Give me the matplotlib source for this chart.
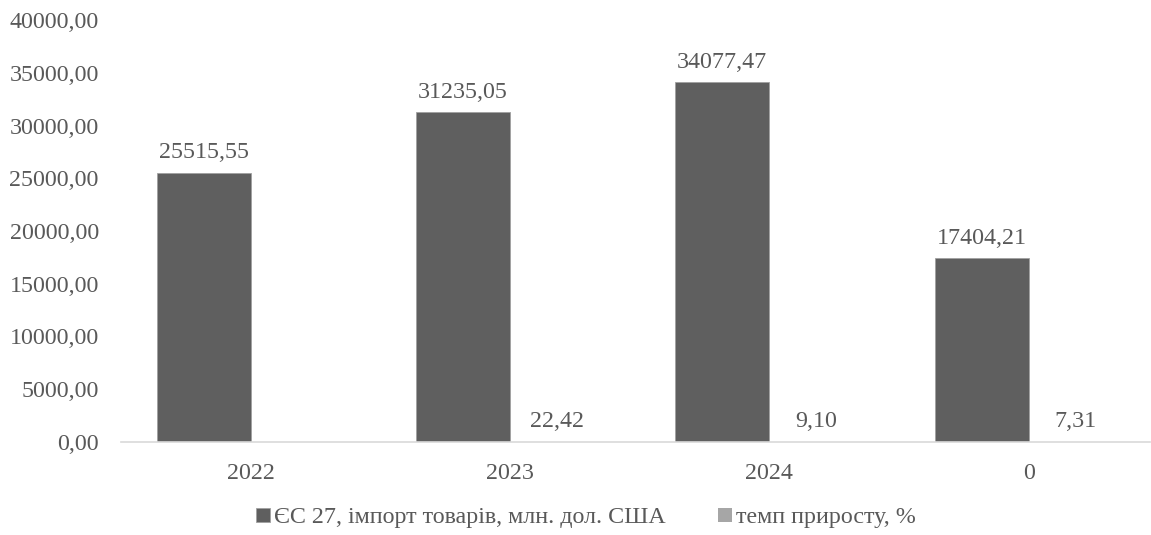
import numpy as np
import matplotlib
matplotlib.use('Agg')
import matplotlib.pyplot as plt

# Дані
kategorii = ['2022', '2023', '2024', '0']
import_es = [25515.55, 31235.05, 34077.47, 17404.21]
temp_pryrostu = [np.nan, 22.42, 9.10, 7.31]
y_ticks = [0, 5000, 10000, 15000, 20000, 25000, 30000, 35000, 40000]

name_import = 'ЄС 27, імпорт товарів, млн. дол. США'
name_temp = 'темп приросту, %'

plt.rcParams['font.family'] = ['Liberation Serif', 'DejaVu Serif']
text_color = '#595959'
fs = 17.3

fig = plt.figure(figsize=(11.51, 5.35), dpi=100)
ax = fig.add_axes([121 / 1151, 93 / 535, 1029 / 1151, 422 / 535])

x = np.arange(len(kategorii))
w = 0.363

b1 = ax.bar(x - w / 2, import_es, width=w, color='#5f5f5f',
            edgecolor='#a0a0a0', linewidth=0.6, label=name_import)
b2 = ax.bar(x + w / 2, np.nan_to_num(temp_pryrostu), width=w, color='#a6a6a6',
            label=name_temp)


def fmt(v):
    return f'{v:.2f}'.replace('.', ',')


for xi, v in zip(x, import_es):
    ax.annotate(fmt(v), (xi - w / 2, v), xytext=(0, 7), textcoords='offset points',
                ha='center', va='bottom', fontsize=fs, color=text_color)
for xi, v in zip(x, temp_pryrostu):
    if np.isnan(v):
        continue
    ax.annotate(fmt(v), (xi + w / 2, v), xytext=(0, 7), textcoords='offset points',
                ha='center', va='bottom', fontsize=fs, color=text_color)

ax.set_ylim(0, 40000)
ax.set_xlim(-0.5, 3.468)
ax.set_yticks(y_ticks)
ax.set_yticklabels([fmt(t) for t in y_ticks])
ax.set_xticks(x)
ax.set_xticklabels(kategorii)
ax.tick_params(axis='both', length=0, labelsize=fs, labelcolor=text_color)
ax.tick_params(axis='x', pad=15)
ax.tick_params(axis='y', pad=16)

for s in ['top', 'right', 'left']:
    ax.spines[s].set_visible(False)
ax.spines['bottom'].set_color('#d9d9d9')
ax.spines['bottom'].set_linewidth(1.2)

fig.legend(handles=[b1, b2], loc='center', bbox_to_anchor=(586 / 1151, 17 / 535),
           ncol=2, frameon=False, fontsize=fs, labelcolor=text_color,
           handlelength=0.55, handleheight=0.55, handletextpad=0.17,
           columnspacing=2.2, borderpad=0)

fig.savefig('out.png', dpi=100)
